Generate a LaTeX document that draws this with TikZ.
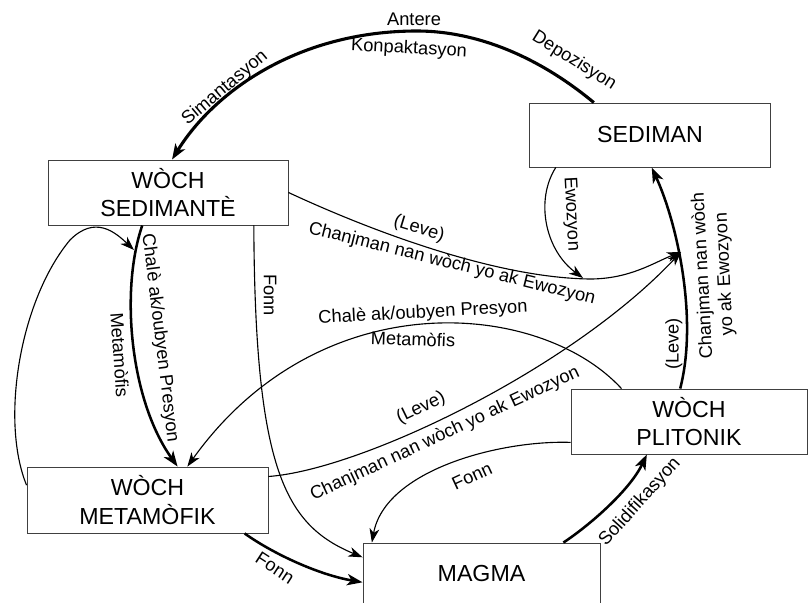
\documentclass[tikz,border=0pt]{standalone}
\usepackage{fontspec}
\setmainfont{Liberation Sans}
\usetikzlibrary{arrows.meta}
\begin{document}
\begin{tikzpicture}[x=0.025cm,y=-0.025cm,
  rock/.style={draw=black!75,line width=0.6pt,minimum width=6cm,minimum height=1.625cm,inner sep=0pt,align=center,font=\fontsize{16.5}{20}\selectfont},
  lbl/.style={inner sep=0pt,align=center,font=\fontsize{13}{15.5}\selectfont},
  flow/.style={line width=0.8pt,-{Stealth[length=10pt,width=7pt,inset=3pt]}},
  bigflow/.style={line width=1.8pt,-{Stealth[length=11pt,width=8pt,inset=3pt]}}]
\useasboundingbox (0,0) rectangle (808,603);
\node[rock,minimum width=6.025cm,minimum height=1.6cm] (sediman) at (650,135) {SEDIMAN};
\node[rock] (sedim) at (168,192.5) {WÒCH\\SEDIMANTÈ};
\node[rock,minimum width=6.025cm,minimum height=1.65cm] (meta) at (147.5,500) {WÒCH\\METAMÒFIK};
\node[rock,minimum width=5.9cm] (pluto) at (689,421.5) {WÒCH\\PLITONIK};
\node[rock,minimum width=5.925cm,minimum height=1.55cm] (magma) at (481.5,574) {MAGMA};
\coordinate (meet) at (681,252);
\coordinate (ewo) at (583,278);
\coordinate (loopend) at (134,250);
\draw[bigflow,line width=2.2pt] (sediman.150) .. controls (539,57) and (477,31) .. (417,31) .. controls (300,31) and (215,90) .. (sedim.83);
\draw[flow] (sediman.199) .. controls (535,200) and (545,250) .. (ewo);
\draw[flow] (sedim.east) .. controls (380,235) and (500,278) .. (590,279) .. controls (630,279) and (655,262) .. (meet);
\draw[bigflow] (pluto.105) .. controls (698,320) and (678,225) .. (sediman.-87);
\draw[bigflow] (sedim.-128) .. controls (120,290) and (130,400) .. (meta.48);
\draw[flow] (meta.173) .. controls (0,420) and (20,300) .. (70,240) .. controls (95,215) and (115,232) .. (loopend);
\draw[flow] (sedim.-21) .. controls (255,470) and (285,525) .. (magma.172);
\draw[flow] (pluto.154) .. controls (540,300) and (320,281) .. (meta.40);
\draw[flow] (meta.11) .. controls (360,470) and (570,370) .. (meet);
\draw[flow] (pluto.190) .. controls (500,440) and (385,470) .. (magma.164);
\draw[bigflow] (magma.21) .. controls (590,525) and (630,490) .. (pluto.-142);
\draw[bigflow] (meta.-19) .. controls (275,555) and (320,575) .. (magma.184);
\node[lbl] (antere) at (414,19) {Antere};
\node[lbl,rotate=-3] (konpak) at (409,49) {Konpaktasyon};
\node[lbl,rotate=40] (siman) at (225,88) {Simantasyon};
\node[lbl,rotate=-32] (depo) at (574,61) {Depozisyon};
\node[lbl,rotate=-87] (ewoz) at (571,214) {Ewozyon};
\node[lbl,rotate=-17] (leveA) at (419,229) {(Leve)};
\node[lbl,rotate=-14] (chanjA) at (452,264) {Chanjman nan wòch yo ak Ewozyon};
\node[lbl,rotate=90] (leveB) at (674,344) {(Leve)};
\node[lbl,rotate=93] (chanjB) at (714,275) {Chanjman nan wòch\\yo ak Ewozyon};
\node[lbl,rotate=-83] (chaleA) at (160,338) {Chalè ak/oubyen Presyon};
\node[lbl,rotate=-86] (metaA) at (120,355) {Metamòfis};
\node[lbl,rotate=-90] (fonnA) at (270,295) {Fonn};
\node[lbl,rotate=3] (chaleB) at (423,313) {Chalè ak/oubyen Presyon};
\node[lbl,rotate=-2] (metaB) at (413,339) {Metamòfis};
\node[lbl,rotate=26] (leveC) at (421,408) {(Leve)};
\node[lbl,rotate=25] (chanjC) at (445,434) {Chanjman nan wòch yo ak Ewozyon};
\node[lbl,rotate=25] (fonnB) at (472,476) {Fonn};
\node[lbl,rotate=48] (solid) at (640,502) {Solidifikasyon};
\node[lbl,rotate=-33] (fonnC) at (275,568) {Fonn};
\end{tikzpicture}
\end{document}
